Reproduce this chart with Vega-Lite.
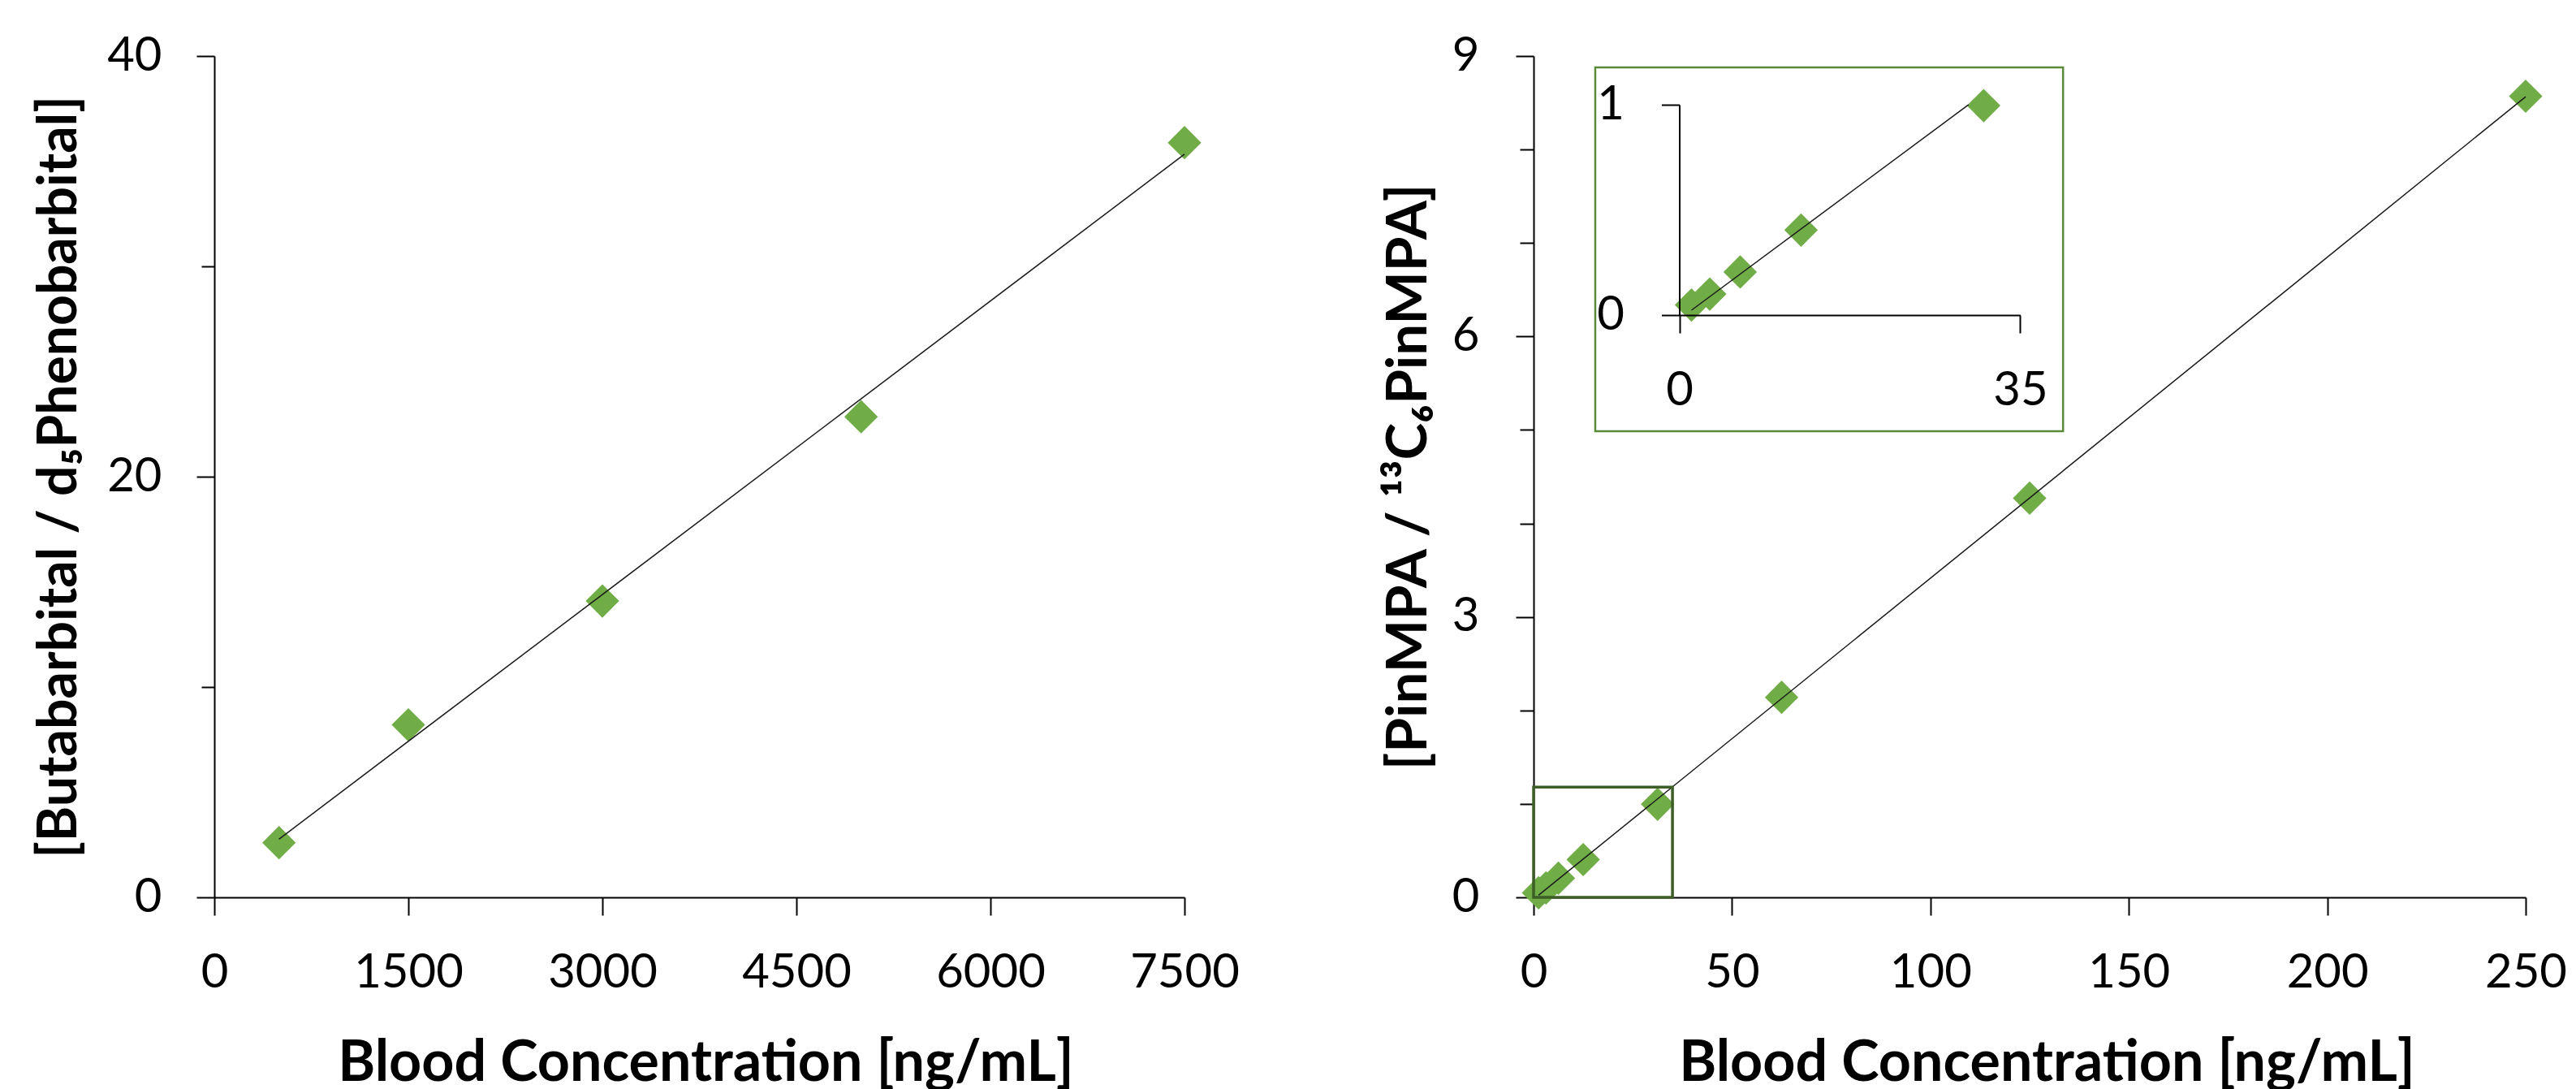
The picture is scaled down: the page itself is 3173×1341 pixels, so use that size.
{
  "$schema": "https://vega.github.io/schema/vega-lite/v6.json",
  "background": "white",
  "padding": {"left": 40, "top": 40, "right": 4, "bottom": 4},
  "config": {
    "view": {"stroke": null},
    "font": "Lato",
    "axis": {
      "grid": false,
      "domainColor": "#000000",
      "domainWidth": 2,
      "tickColor": "#000000",
      "tickWidth": 2,
      "labelColor": "#000000",
      "labelFont": "Lato",
      "labelFontSize": 58,
      "labelFontWeight": "normal",
      "labelOverlap": false,
      "labelFlush": false,
      "labelBound": false,
      "titleColor": "#000000",
      "titleFont": "Lato",
      "titleFontSize": 68,
      "titleFontWeight": "bold"
    }
  },
  "datasets": {
    "butabarbital": [
      {"conc": 500, "ratio": 2.6},
      {"conc": 1500, "ratio": 8.2},
      {"conc": 3000, "ratio": 14.09},
      {"conc": 5000, "ratio": 22.85},
      {"conc": 7500, "ratio": 35.88}
    ],
    "pinmpa": [
      {"conc": 1.25, "ratio": 0.048},
      {"conc": 3.125, "ratio": 0.1},
      {"conc": 6.25, "ratio": 0.205},
      {"conc": 12.5, "ratio": 0.404},
      {"conc": 31.25, "ratio": 0.996},
      {"conc": 62.5, "ratio": 2.14},
      {"conc": 125, "ratio": 4.27},
      {"conc": 250, "ratio": 8.57}
    ],
    "zoomRegion": [
      {"x0": 0, "x1": 35, "y0": 0, "y1": 1.18}
    ],
    "insetFrame": [
      {"x0": -8.63, "x1": 39.4, "y0": -0.552, "y1": 1.178}
    ]
  },
  "spacing": 430,
  "bounds": "flush",
  "hconcat": [
    {
      "width": 1195,
      "height": 1036,
      "data": {"name": "butabarbital"},
      "encoding": {
        "x": {
          "field": "conc", "type": "quantitative",
          "scale": {"domain": [0, 7500], "nice": false, "zero": false},
          "axis": {"values": [0, 1500, 3000, 4500, 6000, 7500], "format": "d", "tickSize": 22, "labelPadding": 42, "title": "Blood Concentration [ng/mL]", "titleFontSize": 70, "titlePadding": 48, "titleX": 605}
        },
        "y": {
          "field": "ratio", "type": "quantitative",
          "scale": {"domain": [0, 40], "nice": false},
          "axis": {
            "values": [0, 10, 20, 30, 40],
            "tickSize": {"condition": {"test": "datum.value % 20 === 0", "value": 22}, "value": 16},
            "labelExpr": "datum.value % 20 === 0 ? datum.label : ''",
            "labelPadding": 43,
            "title": "[Butabarbital / d₅Phenobarbital]",
            "titleFontSize": 66,
            "titlePadding": 24
          }
        }
      },
      "layer": [
        {"mark": {"type": "point", "shape": "diamond", "filled": true, "size": 1700, "color": "#70AD47", "opacity": 1, "strokeWidth": 0}},
        {"transform": [{"regression": "ratio", "on": "conc"}], "mark": {"type": "line", "color": "#1a1a1a", "strokeWidth": 1.5}}
      ]
    },
    {
      "width": 1222,
      "height": 1036,
      "layer": [
        {
          "data": {"name": "pinmpa"},
          "mark": {"type": "point", "shape": "diamond", "filled": true, "size": 1700, "color": "#70AD47", "opacity": 1, "strokeWidth": 0},
          "encoding": {
            "x": {
              "field": "conc", "type": "quantitative",
              "scale": {"domain": [0, 250], "nice": false, "zero": false},
              "axis": {"orient": "bottom", "values": [0, 50, 100, 150, 200, 250], "format": "d", "tickSize": 22, "labelPadding": 42, "title": "Blood Concentration [ng/mL]", "titleFontSize": 70, "titlePadding": 48, "titleX": 632}
            },
            "y": {
              "field": "ratio", "type": "quantitative",
              "scale": {"domain": [0, 9], "nice": false, "zero": false},
              "axis": {
                "orient": "left",
                "values": [0, 1, 2, 3, 4, 5, 6, 7, 8, 9],
                "tickSize": {"condition": {"test": "datum.value % 3 === 0", "value": 22}, "value": 17},
                "labelExpr": "datum.value % 3 === 0 ? datum.label : ''",
                "labelPadding": 45,
                "title": "[PinMPA / ¹³C₆PinMPA]",
                "titleFontSize": 69,
                "titlePadding": 18
              }
            }
          }
        },
        {
          "data": {"name": "pinmpa"},
          "transform": [{"regression": "ratio", "on": "conc"}],
          "mark": {"type": "line", "color": "#1a1a1a", "strokeWidth": 1.5},
          "encoding": {
            "x": {"field": "conc", "type": "quantitative", "scale": {"domain": [0, 250], "nice": false, "zero": false}, "axis": null},
            "y": {"field": "ratio", "type": "quantitative", "scale": {"domain": [0, 9], "nice": false, "zero": false}, "axis": null}
          }
        },
        {
          "data": {"name": "zoomRegion"},
          "mark": {"type": "rect", "filled": false, "stroke": "#3d5e27", "strokeWidth": 3.5},
          "encoding": {
            "x": {"field": "x0", "type": "quantitative", "scale": {"domain": [0, 250], "nice": false, "zero": false}, "axis": null},
            "x2": {"field": "x1"},
            "y": {"field": "y0", "type": "quantitative", "scale": {"domain": [0, 9], "nice": false, "zero": false}, "axis": null},
            "y2": {"field": "y1"}
          }
        },
        {
          "data": {"name": "insetFrame"},
          "mark": {"type": "rect", "fill": "white", "stroke": "#5a8a3a", "strokeWidth": 2.5},
          "encoding": {
            "x": {"field": "x0", "type": "quantitative", "scale": {"domain": [0, 35], "range": [179.5, 599.4], "nice": false, "zero": false}, "axis": null},
            "x2": {"field": "x1"},
            "y": {"field": "y0", "type": "quantitative", "scale": {"domain": [0, 1], "range": [319, 60], "nice": false, "zero": false}, "axis": null},
            "y2": {"field": "y1"}
          }
        },
        {
          "data": {"name": "pinmpa"},
          "transform": [{"filter": "datum.conc <= 35"}],
          "mark": {"type": "point", "shape": "diamond", "filled": true, "size": 1700, "color": "#70AD47", "opacity": 1, "strokeWidth": 0},
          "encoding": {
            "x": {
              "field": "conc", "type": "quantitative",
              "scale": {"domain": [0, 35], "range": [179.5, 599.4], "nice": false, "zero": false},
              "axis": {"orient": "bottom", "offset": -717, "values": [0, 35], "format": "d", "tickSize": 22, "labelPadding": 42, "title": null, "zindex": 2}
            },
            "y": {
              "field": "ratio", "type": "quantitative",
              "scale": {"domain": [0, 1], "range": [319, 60], "nice": false, "zero": false},
              "axis": {"orient": "left", "offset": -179.5, "values": [0, 1], "format": "d", "tickSize": 22, "labelPadding": 46, "title": null, "zindex": 2}
            }
          }
        },
        {
          "data": {"name": "pinmpa"},
          "transform": [{"regression": "ratio", "on": "conc", "extent": [1.25, 29.7]}],
          "mark": {"type": "line", "color": "#1a1a1a", "strokeWidth": 1.5},
          "encoding": {
            "x": {"field": "conc", "type": "quantitative", "scale": {"domain": [0, 35], "range": [179.5, 599.4], "nice": false, "zero": false}, "axis": null},
            "y": {"field": "ratio", "type": "quantitative", "scale": {"domain": [0, 1], "range": [319, 60], "nice": false, "zero": false}, "axis": null}
          }
        }
      ],
      "resolve": {"scale": {"x": "independent", "y": "independent"}, "axis": {"x": "independent", "y": "independent"}}
    }
  ]
}
